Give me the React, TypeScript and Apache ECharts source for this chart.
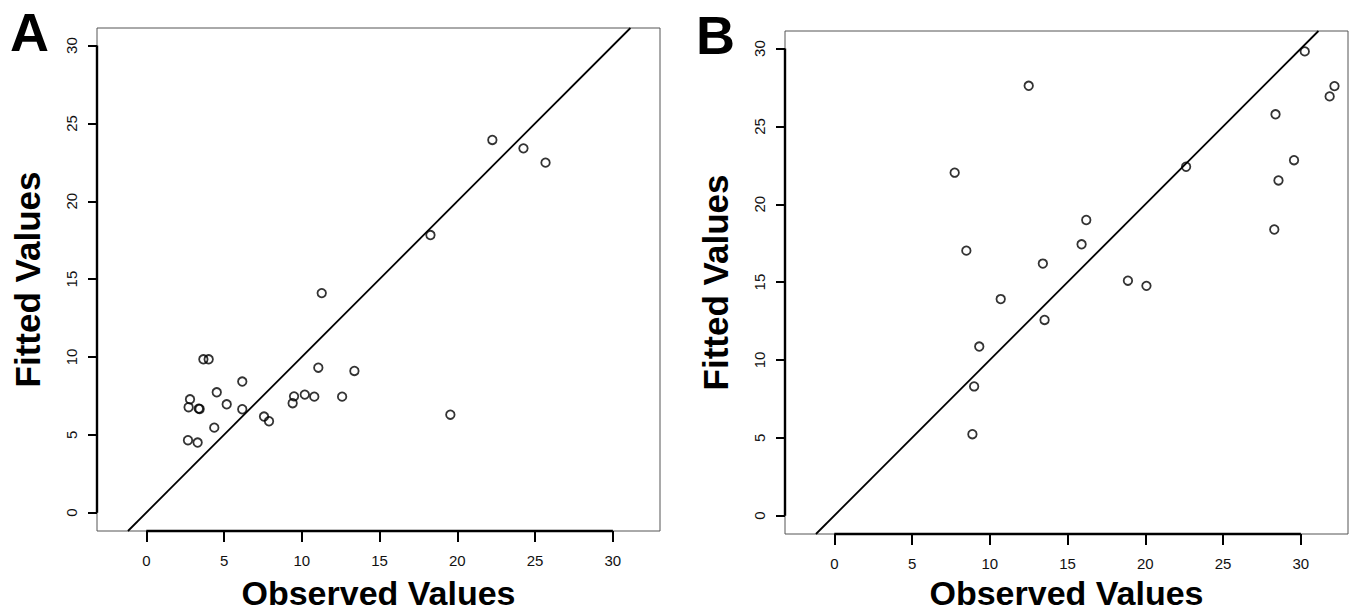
import React, { useEffect, useRef } from "react";
import * as echarts from "echarts";

// Panel A: observed (x) vs fitted (y)
const observedA = [11.28, 3.67, 4.01, 11.06, 13.38, 6.17, 4.53, 2.81, 2.72, 3.37, 3.43, 5.17, 6.17, 9.5, 9.41, 10.19, 10.8, 12.59, 7.57, 7.89, 4.37, 2.68, 3.3, 19.55, 22.25, 24.25, 25.67, 18.27];
const fittedA = [14.1, 9.85, 9.85, 9.31, 9.1, 8.42, 7.73, 7.28, 6.77, 6.68, 6.66, 6.96, 6.64, 7.47, 7.03, 7.58, 7.45, 7.45, 6.17, 5.87, 5.46, 4.65, 4.5, 6.29, 23.94, 23.4, 22.48, 17.83];

// Panel B
const observedB = [30.25, 32.16, 31.85, 12.5, 28.37, 7.74, 22.62, 29.56, 28.56, 16.2, 15.9, 28.29, 8.49, 13.41, 18.88, 20.07, 10.7, 13.52, 9.32, 8.99, 8.88];
const fittedB = [29.82, 27.59, 26.93, 27.61, 25.78, 22.03, 22.41, 22.83, 21.53, 18.99, 17.43, 18.38, 17.02, 16.19, 15.09, 14.76, 13.91, 12.57, 10.86, 8.3, 5.23];

const tickValues = [0, 5, 10, 15, 20, 25, 30];
const xRange = [-3.17, 33.03];
const yRange = [-1.18, 31.13];

const FONT = "'Liberation Sans', Arial, Helvetica, sans-serif";

function App() {
  const ref = useRef<HTMLDivElement>(null);

  useEffect(() => {
    if (!ref.current) return;
    const chart = echarts.init(ref.current, null, { renderer: "svg" });

    const grids = [
      { left: 97, top: 28, width: 563, height: 503 },
      { left: 785, top: 31, width: 563, height: 503 },
    ];
    const titleGaps = [45, 42];

    const mkX = (gi: number) => ({
      type: "value",
      gridIndex: gi,
      min: xRange[0],
      max: xRange[1],
      name: "Observed Values",
      nameLocation: "middle",
      nameGap: titleGaps[gi],
      nameTextStyle: { fontFamily: FONT, fontWeight: "bold", fontSize: 34, color: "#000" },
      axisLine: { show: false, onZero: false },
      splitLine: { show: false },
      axisTick: {
        show: true,
        customValues: tickValues,
        length: 11,
        lineStyle: { color: "#000", width: 2 },
      },
      axisLabel: {
        customValues: tickValues,
        margin: 22,
        fontFamily: FONT,
        fontSize: 15,
        color: "#111",
      },
    });

    const mkY = (gi: number) => ({
      type: "value",
      gridIndex: gi,
      min: yRange[0],
      max: yRange[1],
      name: "Fitted Values",
      nameLocation: "middle",
      nameGap: 52,
      nameTextStyle: { fontFamily: FONT, fontWeight: "bold", fontSize: 35, color: "#000" },
      axisLine: { show: false, onZero: false },
      splitLine: { show: false },
      axisTick: {
        show: true,
        customValues: tickValues,
        length: 9,
        lineStyle: { color: "#000", width: 2 },
      },
      axisLabel: {
        customValues: tickValues,
        rotate: 90,
        margin: 18,
        fontFamily: FONT,
        fontSize: 15,
        color: "#111",
      },
    });

    const series: any[] = [];
    const panels = [
      { xs: observedA, ys: fittedA },
      { xs: observedB, ys: fittedB },
    ];
    panels.forEach((p, gi) => {
      series.push({
        type: "scatter",
        xAxisIndex: gi,
        yAxisIndex: gi,
        data: p.xs.map((x, i) => [x, p.ys[i]]),
        symbol: "circle",
        symbolSize: 8.5,
        itemStyle: { color: "rgba(0,0,0,0)", borderColor: "#000", borderWidth: 1.8 },
        z: 5,
      });
      // identity line y = x
      const lo = Math.max(xRange[0], yRange[0]);
      const hi = Math.min(xRange[1], yRange[1]);
      series.push({
        type: "line",
        xAxisIndex: gi,
        yAxisIndex: gi,
        data: [[lo, lo], [hi, hi]],
        symbol: "none",
        lineStyle: { color: "#000", width: 1.8 },
        clip: true,
        z: 4,
      });
      // R-style axis segments spanning the first to last tick
      const t0 = tickValues[0];
      const t1 = tickValues[tickValues.length - 1];
      series.push({
        type: "line",
        xAxisIndex: gi,
        yAxisIndex: gi,
        data: [[t0, yRange[0]], [t1, yRange[0]]],
        symbol: "none",
        lineStyle: { color: "#000", width: 2.4 },
        clip: false,
        z: 6,
      });
      series.push({
        type: "line",
        xAxisIndex: gi,
        yAxisIndex: gi,
        data: [[xRange[0], t0], [xRange[0], t1]],
        symbol: "none",
        lineStyle: { color: "#000", width: 2.4 },
        clip: false,
        z: 6,
      });
    });

    chart.setOption({
      animation: false,
      backgroundColor: "#fff",
      grid: grids.map((g) => ({
        ...g,
        show: true,
        borderColor: "#555",
        borderWidth: 1,
        backgroundColor: "transparent",
        containLabel: false,
        outerBoundsMode: "none",
      })),
      xAxis: [mkX(0), mkX(1)],
      yAxis: [mkY(0), mkY(1)],
      series,
      graphic: [
        {
          type: "text",
          left: 10,
          top: 5,
          style: { text: "A", font: `bold 54px ${FONT}`, fill: "#000" },
        },
        {
          type: "text",
          left: 696,
          top: 8,
          style: { text: "B", font: `bold 54px ${FONT}`, fill: "#000" },
        },
      ],
    });

    return () => chart.dispose();
  }, []);

  return (
    <div
      ref={ref}
      style={{ position: "absolute", left: 0, top: 0, width: 1356, height: 613, background: "#fff" }}
    />
  );
}

export default App;
